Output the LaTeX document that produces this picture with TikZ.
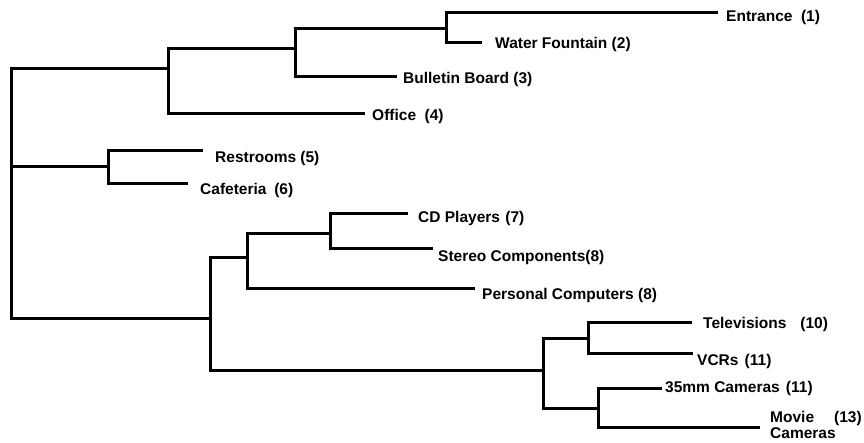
\documentclass[tikz,border=0pt]{standalone}
\usepackage{fontspec}
\setmainfont{Liberation Sans}
\begin{document}
\begin{tikzpicture}[x=1pt,y=-1pt,
  branch/.style={line width=3pt,line join=miter},
  leaflabel/.style={anchor=west,inner sep=0pt,font=\bfseries\fontsize{15.5}{16}\selectfont}]
\useasboundingbox (0,0) rectangle (864,442);
% internal nodes (x of vertical, y where parent attaches)
\coordinate (R) at (11,200);
\coordinate (A) at (168,68);
\coordinate (B) at (295,48);
\coordinate (C) at (446,28);
\coordinate (D) at (108,166);
\coordinate (E) at (210,318);
\coordinate (F) at (247,257);
\coordinate (G) at (330,233);
\coordinate (H) at (543,370);
\coordinate (I) at (588,338);
\coordinate (J) at (598,408);
% leaf ends
\coordinate (l1) at (718,12);
\coordinate (l2) at (482,42);
\coordinate (l3) at (397,76);
\coordinate (l4) at (365,113);
\coordinate (l5) at (203,150);
\coordinate (l6) at (188,183);
\coordinate (l7) at (408,213);
\coordinate (l8) at (433,248);
\coordinate (l9) at (475,288);
\coordinate (l10) at (692,322);
\coordinate (l11) at (693,353);
\coordinate (l12) at (662,388);
\coordinate (l13) at (760,427);
% branches
\draw[branch] (A) -- (R|-A) -- (R|-E) -- (E);
\draw[branch] (R|-D) -- (D);
\draw[branch] (B) -- (A|-B) -- (A|-l4) -- (l4);
\draw[branch] (C) -- (B|-C) -- (B|-l3) -- (l3);
\draw[branch] (l1) -- (C|-l1) -- (C|-l2) -- (l2);
\draw[branch] (l5) -- (D|-l5) -- (D|-l6) -- (l6);
\draw[branch] (F) -- (E|-F) -- (E|-H) -- (H);
\draw[branch] (G) -- (F|-G) -- (F|-l9) -- (l9);
\draw[branch] (l7) -- (G|-l7) -- (G|-l8) -- (l8);
\draw[branch] (I) -- (H|-I) -- (H|-J) -- (J);
\draw[branch] (l10) -- (I|-l10) -- (I|-l11) -- (l11);
\draw[branch] (l12) -- (J|-l12) -- (J|-l13) -- (l13);
% labels
\node[leaflabel] (t1) at (726,17) {Entrance\hspace{0.55em}(1)};
\node[leaflabel] (t2) at (495,44) {Water Fountain (2)};
\node[leaflabel] (t3) at (403,79) {Bulletin Board (3)};
\node[leaflabel] (t4) at (372,116) {Office\hspace{0.55em}(4)};
\node[leaflabel] (t5) at (215,158) {Restrooms (5)};
\node[leaflabel] (t6) at (200,190) {Cafeteria\hspace{0.5em}(6)};
\node[leaflabel] (t7) at (418,218) {CD Players\hspace{0.35em}(7)};
\node[leaflabel] (t8) at (438,257) {Stereo Components(8)};
\node[leaflabel] (t9) at (482,295) {Personal Computers (8)};
\node[leaflabel] (t10) at (703,324) {Televisions\hspace{0.9em}(10)};
\node[leaflabel] (t11) at (697,361) {VCRs\hspace{0.4em}(11)};
\node[leaflabel] (t12) at (665,388) {35mm Cameras\hspace{0.4em}(11)};
\node[leaflabel,align=left] (t13) at (770,425) {Movie\\Cameras};
\node[leaflabel] (t13n) at (834,418) {(13)};
\end{tikzpicture}
\end{document}
